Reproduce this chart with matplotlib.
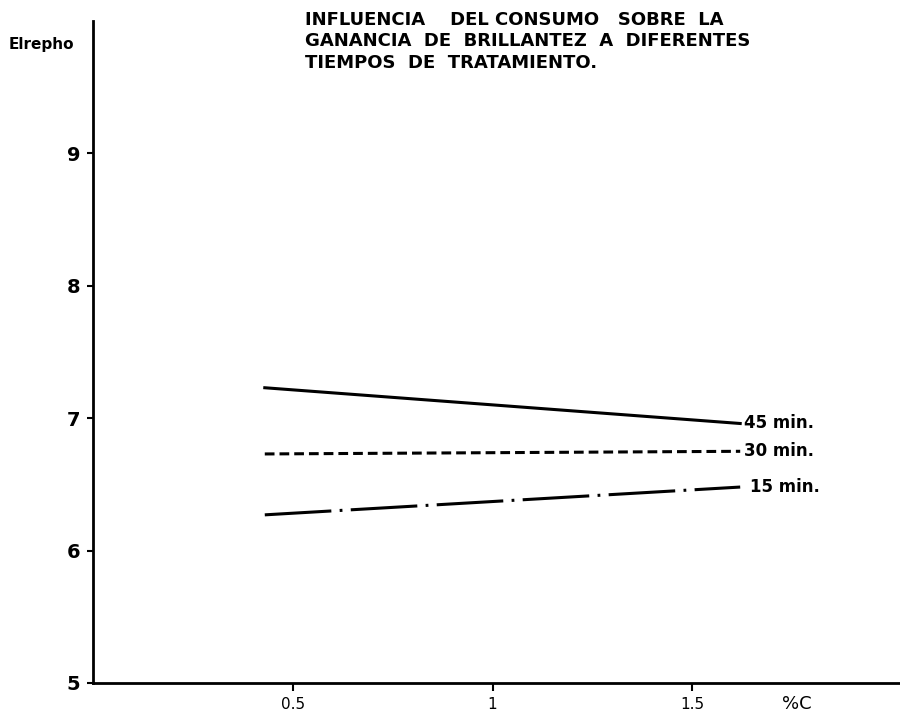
import matplotlib
matplotlib.use("Agg")
import matplotlib.pyplot as plt

plt.rcParams['lines.scale_dashes'] = False

# consumo (%C) y ganancia de brillantez (Elrepho)
x = [0.43, 1.62]
y_45 = [7.23, 6.96]
y_30 = [6.73, 6.75]
y_15 = [6.27, 6.48]
labels = ['45 min.', '30 min.', '15 min.']
xticks = [0.5, 1, 1.5]
xticklabels = ['0.5', '1', '1.5']
yticks = [5, 6, 7, 8, 9]

fig = plt.figure(figsize=(9, 7.14), dpi=100)
ax = fig.add_axes([93/900, 1 - 683/714, 1 - 93/900, (683 - 21)/714])

ax.plot(x, y_45, color='black', lw=2.2)
ax.plot(x, y_30, color='black', lw=2.2, dashes=(7, 3.6))
ax.plot(x, y_15, color='black', lw=2.2, dashes=(48, 6, 2, 6))

for lab, ys, dx in zip(labels, [y_45, y_30, y_15], [0.01, 0.01, 0.025]):
    ax.text(x[1] + dx, ys[1], lab, fontsize=12, fontweight='bold',
            ha='left', va='center')

ax.set_xlim(0, 2.02)
ax.set_ylim(5, 10)
ax.spines['top'].set_visible(False)
ax.spines['right'].set_visible(False)
ax.spines['left'].set_linewidth(2)
ax.spines['bottom'].set_linewidth(2)

ax.set_xticks(xticks)
ax.set_xticklabels(xticklabels, fontsize=11)
ax.set_yticks(yticks)
ax.set_yticklabels([str(t) for t in yticks], fontsize=14, fontweight='bold')
ax.tick_params(axis='x', direction='out', length=6, width=1.5, pad=4)
ax.tick_params(axis='y', direction='out', length=4, width=1.5, pad=5)

fig.text(797/900, 1 - 704/714, '%C', fontsize=13, ha='center', va='center')
fig.text(9/900, 1 - 45/714, 'Elrepho', fontsize=11, fontweight='bold',
         ha='left', va='center')
fig.text(305/900, 1 - 11/714,
         'INFLUENCIA    DEL CONSUMO   SOBRE  LA\n'
         'GANANCIA  DE  BRILLANTEZ  A  DIFERENTES\n'
         'TIEMPOS  DE  TRATAMIENTO.',
         fontsize=13, fontweight='bold', ha='left', va='top', linespacing=1.25)

fig.savefig('out.png', dpi=100)
